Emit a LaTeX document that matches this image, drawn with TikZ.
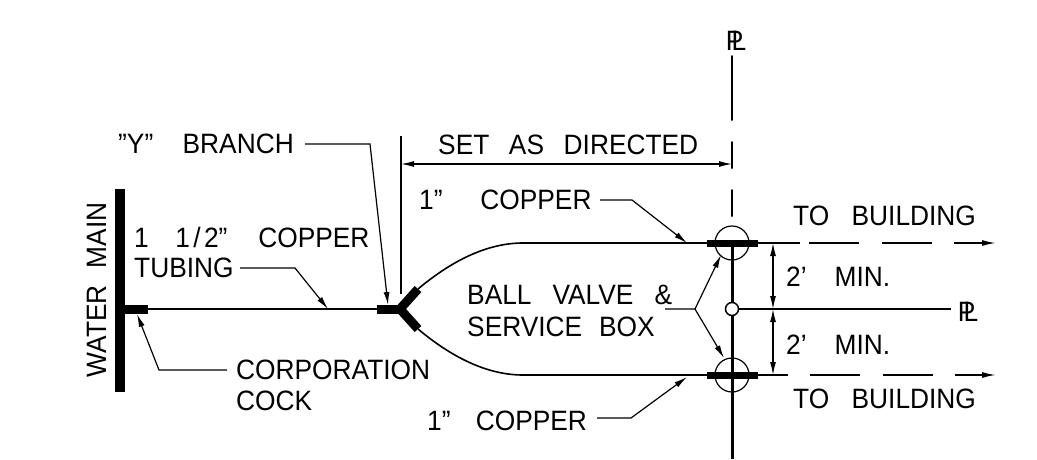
\documentclass[tikz,border=0pt]{standalone}
\usepackage{fontspec}
\setmainfont[FakeStretch=0.94]{Liberation Sans}
\usetikzlibrary{arrows.meta,calc}
\newcommand{\wsp}[1][0.7em]{\hspace{#1}}
\newcommand{\plmark}{\fontsize{28}{28}\selectfont P\kern-0.42em L}
\tikzset{
  x=1pt,y=-1pt,
  lab/.style={inner sep=0pt,anchor=west,font=\fontsize{28}{28}\selectfont},
  heavy/.style={line width=#1,line cap=butt},
  pipe/.style={line width=1.6pt},
  thin line/.style={line width=1.2pt},
  ldr/.style={line width=1.2pt,-{Latex[length=13pt,width=6pt]}},
  dim/.style={line width=1.2pt,{Latex[length=13pt,width=6pt]}-{Latex[length=13pt,width=6pt]}},
  pl line/.style={line width=2pt,line cap=round},
}
\begin{document}
\begin{tikzpicture}
\useasboundingbox (0,0) rectangle (1037,459);
\fill[white] (0,0) rectangle (1037,459);
% labels
\node[lab] (ybr) at (118,144) {"Y"\wsp[1.05em]BRANCH};
\node[lab,rotate=90,anchor=center] (wm) at (97,290) {WATER\wsp[0.6em]MAIN};
\node[lab] (cu) at (134,237) {1\hspace{0.95em}1\hspace{0.12em}/\hspace{0.12em}2"\hspace{1.1em}COPPER};
\node[lab] (tub) at (134,268) {TUBING};
\node[lab] (corp) at (236,370) {CORPORATION};
\node[lab] (cock) at (236,401) {COCK};
\node[lab] (c1t) at (419,200) {1"\wsp[1.35em]COPPER};
\node[lab] (c1b) at (427,421) {1"\wsp[0.9em]COPPER};
\node[lab] (set) at (438,145) {SET\wsp[0.7em]AS\wsp[0.7em]DIRECTED};
\node[lab] (ball) at (467,295) {BALL\wsp[0.75em]VALVE\wsp[0.75em]\&};
\node[lab] (serv) at (467,327) {SERVICE\wsp[0.6em]BOX};
\node[lab] (mint) at (786,277) {2'\wsp[1em]MIN.};
\node[lab] (minb) at (786,345) {2'\wsp[1em]MIN.};
\node[lab] (tbt) at (793,216) {TO\wsp[0.8em]BUILDING};
\node[lab] (tbb) at (793,399) {TO\wsp[0.8em]BUILDING};
\node[inner sep=0pt,anchor=center] (plt) at (736,41) {\plmark};
\node[inner sep=0pt,anchor=center] (plr) at (968,312) {\plmark};
% key points
\coordinate (wmt) at (120,189); \coordinate (wmb) at (120,392);
\coordinate (ccs) at (125,309); \coordinate (cce) at (148,309);
\coordinate (ys) at (377,309); \coordinate (yc) at (400,309);
\coordinate (yu) at (418,289); \coordinate (yl) at (418,329);
\coordinate (vt) at (732,243); \coordinate (vm) at (732,309); \coordinate (vb) at (732,375);
\coordinate (vend) at (732,459);
% water main, cock, main line
\draw[heavy=10pt] (wmt) -- (wmb);
\draw[heavy=9pt] (ccs) -- (cce);
\draw[pipe] (cce) -- (ys);
% Y branch
\draw[heavy=9pt] (ys) -- (yc);
\draw[heavy=9pt,line join=miter] (yu) -- (yc) -- (yl);
\coordinate (ue) at (523,243); \coordinate (le) at (523,375);
\draw[pipe] (yu) .. controls (455,258) and (490,243) .. (ue);
\draw[pipe] (yl) .. controls (455,360) and (490,375) .. (le);
\coordinate (bl1) at (707,243); \coordinate (br1) at (758,243);
\coordinate (bl2) at (707,375); \coordinate (br2) at (758,375);
\draw[pipe] (ue) -- (bl1);
\draw[pipe] (le) -- (bl2);
% service boxes
\node[circle,draw,line width=1.2pt,minimum size=34pt,inner sep=0pt] (boxt) at (vt) {};
\node[circle,draw,line width=1.2pt,minimum size=34pt,inner sep=0pt] (boxb) at (vb) {};
\draw[line width=3pt] (vt) -- (vend);
\draw[heavy=7pt] (bl1) -- (br1);
\draw[heavy=7pt] (bl2) -- (br2);
% building lines
\draw[pipe] (br1) -- (800,243);
\draw[pipe] (809,243) -- (859,243);
\draw[pipe] (882,243) -- (932,243);
\draw[pipe,-{Latex[length=14pt,width=6pt]}] (954,243) -- (996,243);
\draw[pipe] (br2) -- (788,375);
\draw[pipe] (810,375) -- (860,375);
\draw[pipe] (883,375) -- (933,375);
\draw[pipe,-{Latex[length=14pt,width=6pt]}] (955,375) -- (996,375);
% property line
\draw[pl line] (732,56) -- (732,120);
\draw[pl line] (732,142) -- (732,168);
\draw[pl line] (732,190) -- (732,216);
\node[circle,draw,fill=white,line width=1.5pt,minimum size=13pt,inner sep=0pt] (vc) at (vm) {};
\coordinate (plre) at (951,309);
\draw[line width=2.5pt] (vc) -- (plre);
% dimensions
\coordinate (extt) at (401,136); \coordinate (extb) at (401,294);
\draw[thin line] (extt) -- (extb);
\coordinate (dl) at (401,164); \coordinate (dr) at (732,164);
\draw[dim] (dl) -- (dr);
\coordinate (d1) at (773,243); \coordinate (d2) at (773,309); \coordinate (d3) at (773,375);
\draw[dim] (d1) -- (d2);
\draw[dim] (d2) -- (d3);
% leaders
\coordinate (yl1) at (305,144); \coordinate (yl2) at (370,144); \coordinate (yl3) at (388,305);
\draw[ldr] (yl1) -- (yl2) -- (yl3);
\coordinate (tl1) at (240,268); \coordinate (tl2) at (295,268); \coordinate (tl3) at (328,309);
\draw[ldr] (tl1) -- (tl2) -- (tl3);
\coordinate (cl1) at (227,370); \coordinate (cl2) at (159,370); \coordinate (cl3) at (137,314);
\draw[ldr] (cl1) -- (cl2) -- (cl3);
\coordinate (ct1) at (600,200); \coordinate (ct2) at (632,200); \coordinate (ct3) at (687,243);
\draw[ldr] (ct1) -- (ct2) -- (ct3);
\coordinate (cb1) at (597,418); \coordinate (cb2) at (631,418); \coordinate (cb3) at (687,377);
\draw[ldr] (cb1) -- (cb2) -- (cb3);
\coordinate (bv1) at (665,309); \coordinate (bv2) at (695,309);
\coordinate (bv3) at (721,255); \coordinate (bv4) at (724,358);
\draw[ldr] (bv1) -- (bv2) -- (bv3);
\draw[ldr] (bv2) -- (bv4);
\end{tikzpicture}
\end{document}
